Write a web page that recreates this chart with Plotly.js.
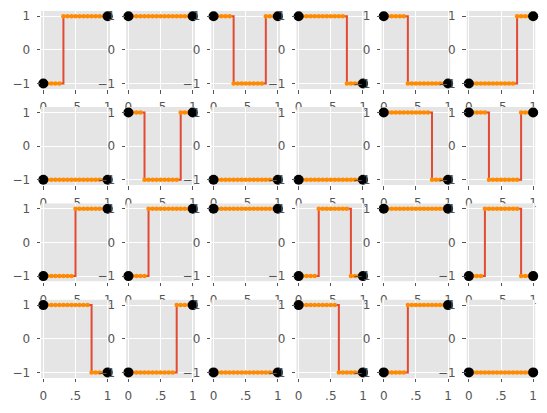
<!DOCTYPE html>
<html>
<head>
<meta charset="utf-8">
<script src="https://cdn.plot.ly/plotly-3.0.1.min.js"></script>
<style>html,body{margin:0;padding:0;background:#fff;}#chart{width:547px;height:413px;}</style>
</head>
<body>
<div id="chart"></div>
<script>
// Panel data, row-major (4 rows x 6 columns)
const startValues = [
  -1,  1,  1,  1,  1, -1,
  -1,  1, -1, -1,  1,  1,
  -1, -1,  1, -1,  1, -1,
   1, -1, -1,  1, -1, -1
];
// x positions where the signal flips sign
const switchPoints = [
  [0.3125], [], [0.3125, 0.8125], [0.75], [0.375], [0.75],
  [], [0.25, 0.8125], [], [], [0.75], [0.3125, 0.8125],
  [0.5], [0.3125], [], [0.3125, 0.8125], [], [0.25, 0.8125],
  [0.75], [0.75], [], [0.625], [0.375], []
];
const sampleX = [0, 0.0625, 0.125, 0.1875, 0.25, 0.3125, 0.375, 0.4375, 0.5,
                 0.5625, 0.625, 0.6875, 0.75, 0.8125, 0.875, 0.9375, 1];
const xTickVals = [0, 0.5, 1];
const xTickText = ['0', '.5', '1'];
const yTickVals = [-1, 0, 1];
const yTickText = ['\u22121', '0', '1'];

const nRows = 4, nCols = 6;
const W = 547, H = 413;
const xRange = [-0.036, 1.036];
const yRange = [-1.163, 1.163];

function valueAt(i, x) {
  let v = startValues[i];
  for (const s of switchPoints[i]) if (x >= s) v = -v;
  return v;
}

const traces = [];
const layout = {
  width: W, height: H,
  margin: {l: 0, r: 0, t: 0, b: 0, pad: 0},
  paper_bgcolor: '#ffffff',
  plot_bgcolor: 'rgba(0,0,0,0)',
  showlegend: false,
  shapes: []
};
const tickFont = {family: 'DejaVu Sans', size: 12, color: '#555555'};

for (let i = 0; i < nRows * nCols; i++) {
  const r = Math.floor(i / nCols), c = i % nCols;
  const sfx = i === 0 ? '' : String(i + 1);
  const xa = 'x' + sfx, ya = 'y' + sfx;
  const ys = sampleX.map(x => valueAt(i, x));

  traces.push({x: sampleX, y: ys, xaxis: xa, yaxis: ya, type: 'scatter', mode: 'lines',
    line: {color: '#E24A33', width: 2, shape: 'hv'}, hoverinfo: 'skip'});
  traces.push({x: sampleX, y: ys, xaxis: xa, yaxis: ya, type: 'scatter', mode: 'markers',
    marker: {color: '#FF8C00', size: 4.5}, hoverinfo: 'skip'});
  traces.push({x: [sampleX[0], sampleX[sampleX.length - 1]], y: [ys[0], ys[ys.length - 1]],
    xaxis: xa, yaxis: ya, type: 'scatter', mode: 'markers', cliponaxis: false,
    marker: {color: '#000000', size: 10}, hoverinfo: 'skip'});

  const left = 41 + 85.1 * c, right = 110 + 85.1 * c;
  const top = 10.7 + 96.3 * r, bottom = 89 + 96.3 * r;

  layout['xaxis' + sfx] = {
    domain: [left / W, right / W], range: xRange, anchor: ya,
    tickvals: xTickVals, ticktext: xTickText, ticks: 'outside', ticklen: 3.5,
    tickwidth: 1, tickcolor: '#555555', tickfont: tickFont, ticklabelstandoff: 3,
    showgrid: true, gridcolor: '#ffffff', gridwidth: 1, zeroline: false,
    showline: false, fixedrange: true
  };
  layout['yaxis' + sfx] = {
    domain: [1 - bottom / H, 1 - top / H], range: yRange, anchor: xa,
    tickvals: yTickVals, ticktext: yTickText, ticks: 'outside', ticklen: 3.5,
    tickwidth: 1, tickcolor: '#555555', tickfont: tickFont, ticklabelstandoff: 4,
    showgrid: true, gridcolor: '#ffffff', gridwidth: 1, zeroline: false,
    showline: false, fixedrange: true
  };
  layout.shapes.push({type: 'rect', xref: xa, yref: ya, layer: 'below',
    x0: xRange[0], x1: xRange[1], y0: yRange[0], y1: yRange[1],
    fillcolor: '#E5E5E5', line: {width: 0}});
}

Plotly.newPlot('chart', traces, layout, {staticPlot: true, displayModeBar: false});
</script>
</body>
</html>
